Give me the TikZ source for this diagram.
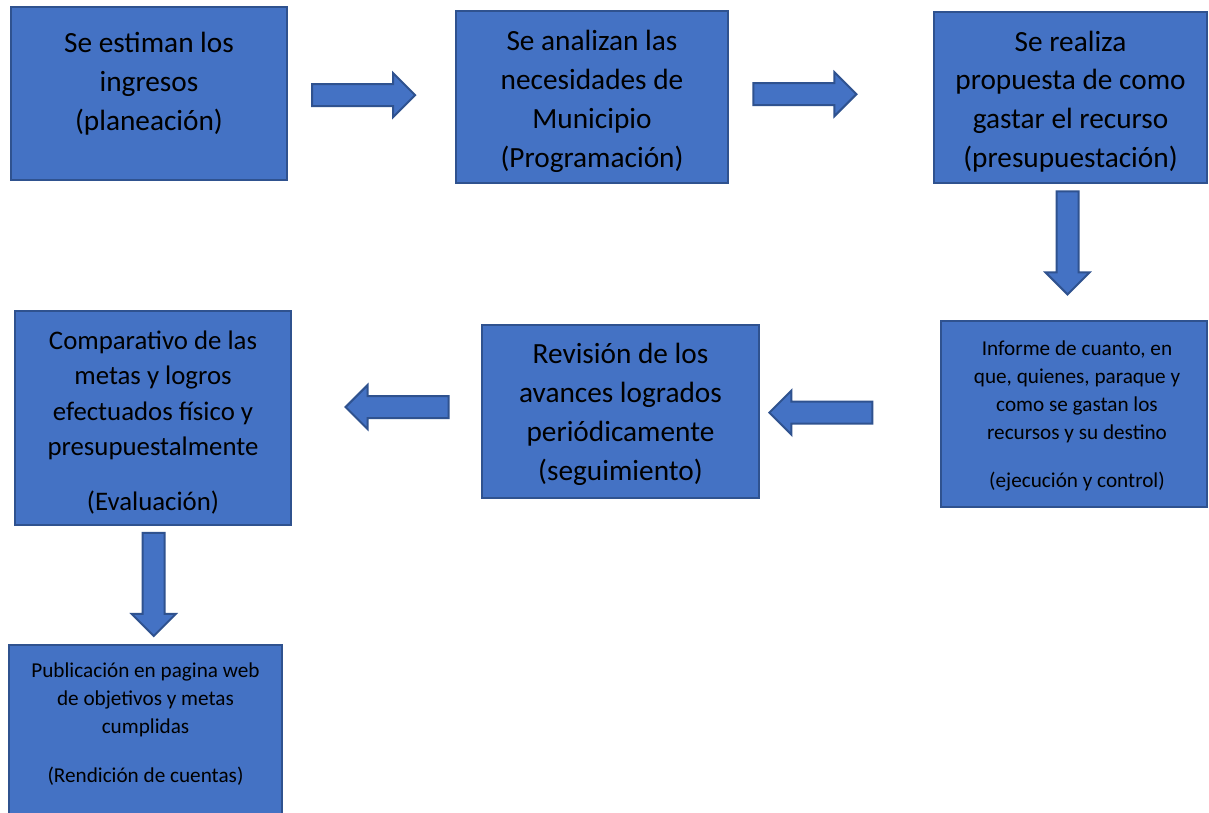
\documentclass[tikz,border=0pt]{standalone}
\usepackage{fontspec}
\setmainfont{Carlito}
\usetikzlibrary{shapes.arrows}
\definecolor{boxblue}{HTML}{4472C4}
\definecolor{boxline}{HTML}{2F528F}
\tikzset{
    box/.style = {
        draw = boxline,
        fill = boxblue,
        line width = 2pt,
        inner sep = 0pt,
        },
    txt/.style = {
        align = center,
        inner sep = 0pt,
        },
    big/.style = {
        font = \fontsize{29.3}{38.8}\selectfont,
        },
    mid/.style = {
        font = \fontsize{26.8}{35.3}\selectfont,
        },
    small/.style = {
        font = \fontsize{21.2}{28}\selectfont,
        },
    block arrow/.style = {
        single arrow,
        draw = boxline,
        fill = boxblue,
        line width = 2pt,
        inner sep = 0pt,
        text width = 20pt,
        text height = 10pt,
        text depth = 10pt,
        single arrow head extend = 11pt,
        minimum height = 103pt,
        },
    right arrow/.style = {
        block arrow,
        shape border rotate = 0,
        },
    left arrow/.style = {
        block arrow,
        shape border rotate = 180,
        },
    down arrow/.style = {
        block arrow,
        shape border rotate = 270,
        },
}
\begin{document}
\begin{tikzpicture}[x=1pt, y=-1pt]
            \path[use as bounding box, fill=white] (0,0) rectangle (1209,813);

            \node[box, minimum width=276, minimum height=173] (plan) at (149,93.5) {};
            \node[box, minimum width=272, minimum height=172] (prog) at (592,97) {};
            \node[box, minimum width=273, minimum height=171] (pres) at (1070.5,97.5) {};
            \node[box, minimum width=266, minimum height=186] (info) at (1074,414) {};
            \node[box, minimum width=277, minimum height=173] (seg) at (620.5,411.5) {};
            \node[box, minimum width=276, minimum height=214] (eval) at (153,418) {};
            \node[box, minimum width=273, minimum height=185] (pub) at (145.5,737.5) {};

            \node[txt, big] (plan text) at (149,83.5) {Se estiman los\\ingresos\\(planeación)};
            \node[txt, big] (prog text) at (592,101.5) {Se analizan las\\necesidades de\\Municipio\\(Programación)};
            \node[txt, big] (pres text) at (1070.5,101.5) {Se realiza\\propuesta de como\\gastar el recurso\\(presupuestación)};
            \node[txt, small] (info text) at (1077,416) {Informe de cuanto, en\\que, quienes, paraque y\\como se gastan los\\recursos y su destino\\[20pt](ejecución y control)};
            \node[txt, big] (seg text) at (620.5,414.5) {Revisión de los\\avances logrados\\periódicamente\\(seguimiento)};
            \node[txt, mid] (eval text) at (153,422.5) {Comparativo de las\\metas y logros\\efectuados físico y\\presupuestalmente\\[19.7pt](Evaluación)};
            \node[txt, small] (pub text) at (145.5,724.5) {Publicación en pagina web\\de objetivos y metas\\cumplidas\\[21pt](Rendición de cuentas)};

            \path (plan) -- node[right arrow, pos=.42] (a1) {} (prog);
            \path (prog) -- node[right arrow, pos=.345, yshift=3] (a2) {} (pres);
            \path (pres) -- node[down arrow, pos=.393, xshift=-4.5] (a3) {} (info);
            \path (info) -- node[left arrow, pos=.631] (a4) {} (seg);
            \path (seg) -- node[left arrow, pos=.415, yshift=7.5] (a5) {} (eval);
            \path (eval) -- node[down arrow, pos=.449, xshift=4.5] (a6) {} (pub);
        \end{tikzpicture}
\end{document}
